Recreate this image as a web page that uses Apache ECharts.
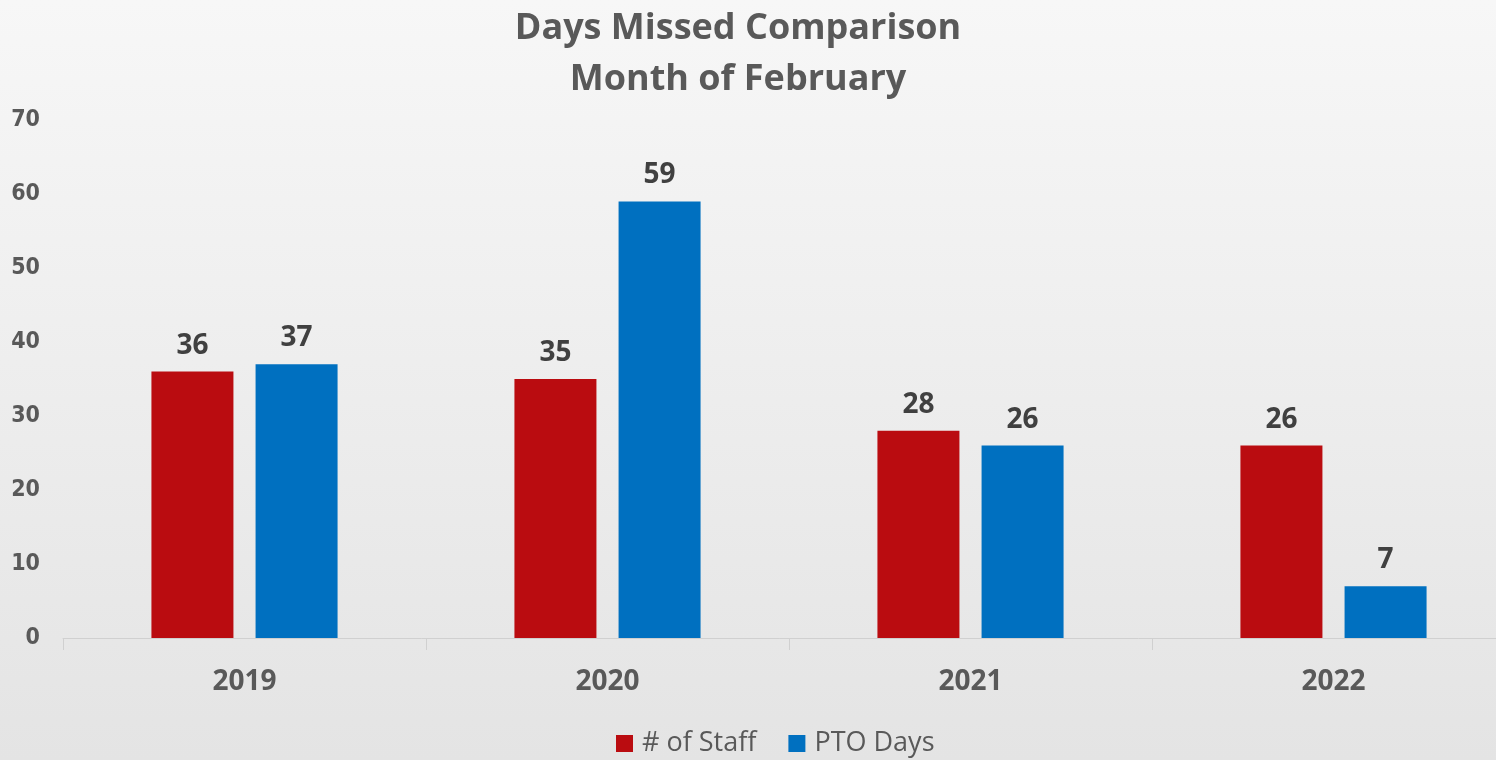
<!DOCTYPE html>
<html><head><meta charset="utf-8">
<script src="https://cdn.jsdelivr.net/npm/echarts@6/dist/echarts.min.js"></script>
<style>html,body{margin:0;padding:0;}#c{width:1496px;height:760px;}</style>
</head><body><div id="c"></div>
<script>
const categories = ['2019', '2020', '2021', '2022'];
const staff = [36, 35, 28, 26];
const pto = [37, 59, 26, 7];
const seriesNames = ['# of Staff', 'PTO Days'];
const yTicks = [0, 10, 20, 30, 40, 50, 60, 70];

const chart = echarts.init(document.getElementById('c'));
const labelStyle = {show: true, position: 'top', distance: 12, color: '#404040', fontSize: 28, fontWeight: 'bold', fontFamily: 'Open Sans'};
chart.setOption({
  backgroundColor: new echarts.graphic.LinearGradient(0, 0, 0, 1, [
    {offset: 0, color: '#f7f7f7'}, {offset: 1, color: '#e4e4e4'}
  ]),
  title: {
    text: 'Days Missed Comparison\nMonth of February',
    left: 733, textAlign: 'center', top: -2,
    textStyle: {color: '#595959', fontSize: 36, fontWeight: 'bold', fontFamily: 'Open Sans', lineHeight: 51}
  },
  legend: {
    data: seriesNames, bottom: -2, left: 611, itemWidth: 17, itemHeight: 17, itemGap: 32,
    icon: 'rect',
    textStyle: {color: '#595959', fontSize: 27, fontFamily: 'Open Sans', padding: [0, 0, 0, 4]}
  },
  grid: {left: 63, width: 1452, top: 120, bottom: 122, containLabel: false, outerBoundsMode: 'none'},
  xAxis: {
    type: 'category', data: categories,
    axisLine: {lineStyle: {color: '#d0d0d0', width: 1}},
    axisTick: {show: true, length: 12, lineStyle: {color: '#d0d0d0'}},
    axisLabel: {color: '#595959', fontSize: 28, fontWeight: 'bold', fontFamily: 'Open Sans', margin: 30}
  },
  yAxis: {
    type: 'value', min: yTicks[0], max: yTicks[yTicks.length - 1], interval: 10,
    splitLine: {show: false}, axisLine: {show: false}, axisTick: {show: false},
    axisLabel: {color: '#595959', fontSize: 23, fontWeight: 'bold', fontFamily: '"DejaVu Sans Condensed", "Roboto Condensed", "Liberation Sans Narrow", Roboto, sans-serif', margin: 23}
  },
  series: [
    {name: seriesNames[0], type: 'bar', data: staff, barWidth: 82, barGap: '27%', itemStyle: {color: '#BA0C10'}, label: labelStyle},
    {name: seriesNames[1], type: 'bar', data: pto, barWidth: 82, itemStyle: {color: '#0070C0'}, label: labelStyle}
  ]
});
</script></body></html>
